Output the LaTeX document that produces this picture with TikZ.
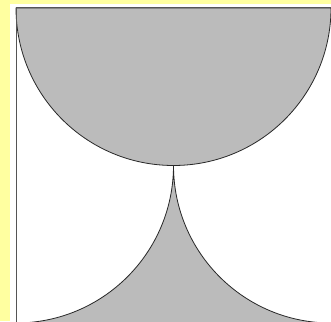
\documentclass[tikz,border=0pt]{standalone}
\definecolor{bgyellow}{RGB}{255,255,160}
\definecolor{shade}{RGB}{187,187,187}
\definecolor{frame}{RGB}{85,85,85}
\definecolor{edge}{RGB}{40,40,40}
\begin{document}
\begin{tikzpicture}[x=1pt,y=-1pt,
  shapefill/.style={fill=shade,draw=edge,line width=0.8pt}]
\useasboundingbox (0,0) rectangle (331,321);
\clip (0,0) rectangle (331,321);
\fill[bgyellow] (0,0) rectangle (331,321);
\fill[white] (10,4) rectangle (345,335);
% top semicircle
\draw[shapefill] (16,8) arc[start angle=180,end angle=0,radius=157.5] -- cycle;
% bottom cusp region
\draw[shapefill] (173.5,165.5) arc[start angle=0,end angle=90,radius=157.5]
  -- (331,323) arc[start angle=90,end angle=180,radius=157.5] -- cycle;
\draw[frame,line width=1pt] (336,8) -- (16,8) -- (16,323) -- (336,323);
\end{tikzpicture}
\end{document}
